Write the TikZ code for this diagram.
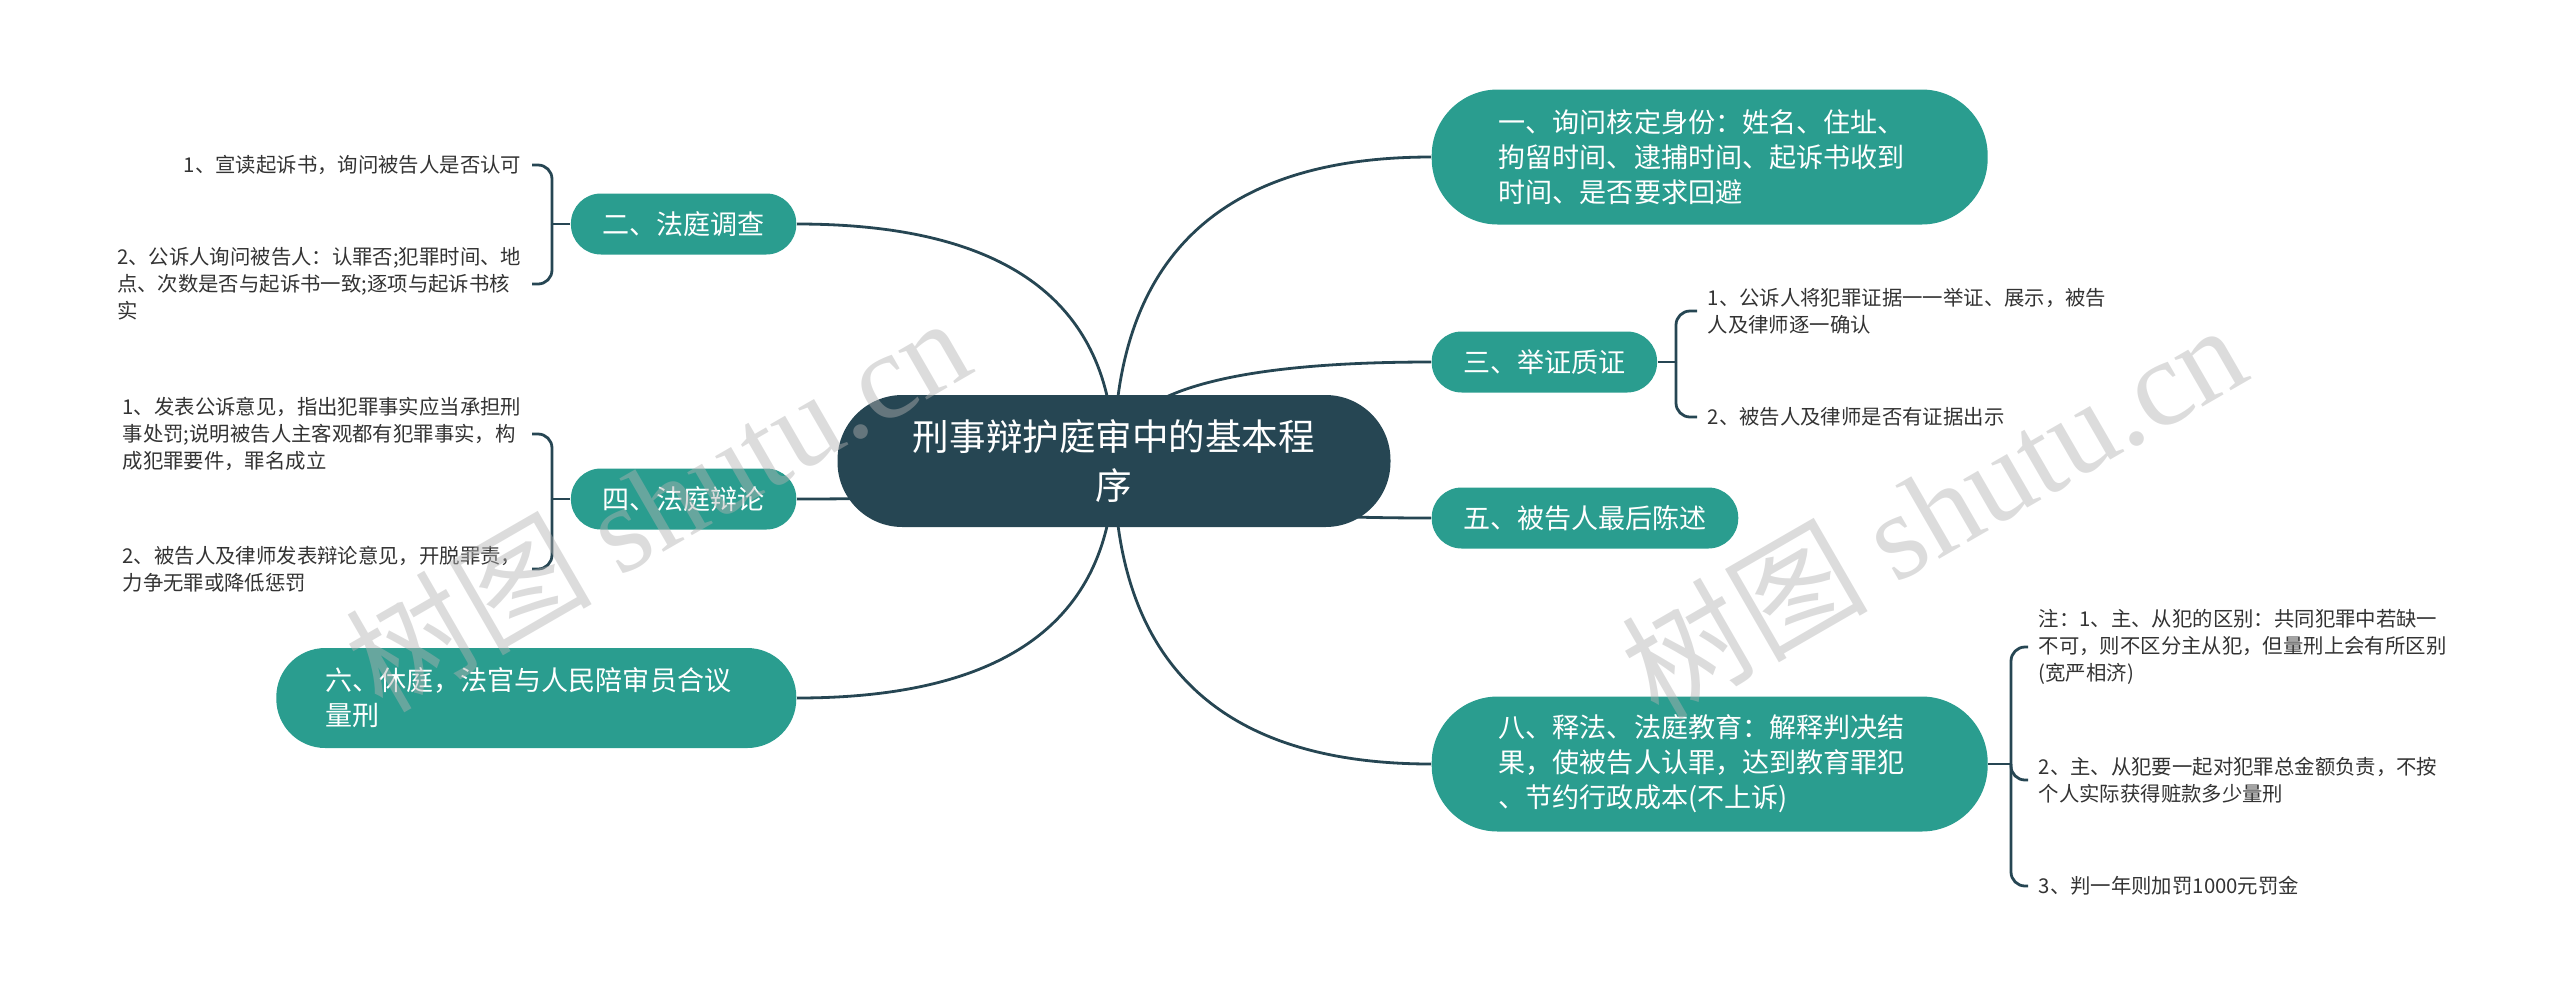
\documentclass[tikz,border=0pt]{standalone}
\usepackage{fontspec}
\setmainfont{Noto Sans CJK SC}
\newfontfamily\wmfont{Liberation Serif}
\usetikzlibrary{backgrounds}
\definecolor{mapdark}{HTML}{264653}
\definecolor{mapteal}{HTML}{2A9D8F}
\definecolor{leafgray}{HTML}{333333}

\begin{document}
\begin{tikzpicture}[x=0.1mm,y=0.1mm,
    root/.style={rectangle,rounded corners=6.5mm,fill=mapdark,text=white,
        minimum width=55.3mm,minimum height=13.2mm,align=center,
        font=\fontsize{10.4pt}{14.2pt}\selectfont},
    branch/.style={rectangle,rounded corners=3mm,fill=mapteal,text=white,
        inner xsep=3.15mm,inner ysep=0pt,minimum height=6.1mm,
        font=\fontsize{7.7pt}{10pt}\selectfont},
    bigbranch/.style={branch,align=left,text width=42.2mm,inner xsep=6.7mm,
        minimum height=13.5mm,rounded corners=6.6mm},
    leaf/.style={text=leafgray,align=left,inner sep=1mm,
        font=\fontsize{5.8pt}{7.7pt}\selectfont},
    link/.style={draw=mapdark,line width=0.28mm},
    brace/.style={link,rounded corners=1.4mm},
    wmark/.style={rotate=30,text=gray!60,text opacity=0.45,
        font=\fontsize{35pt}{35pt}\selectfont}]

\useasboundingbox (0,0) rectangle (2560,-1000);

\node[root] (M) at (1114,-461) {刑事辩护庭审中的基本程\\序};

% right side
\node[bigbranch,anchor=west] (A) at (1431,-157) {一、询问核定身份：姓名、住址、\\拘留时间、逮捕时间、起诉书收到\\时间、是否要求回避};
\node[branch,anchor=west] (C) at (1431,-362) {三、举证质证};
\node[branch,anchor=west] (E) at (1431,-518) {五、被告人最后陈述};
\node[bigbranch,anchor=west] (H) at (1431,-764) {八、释法、法庭教育：解释判决结\\果，使被告人认罪，达到教育罪犯\\、节约行政成本(不上诉)};

% left side
\node[branch,anchor=east] (B) at (797,-224) {二、法庭调查};
\node[branch,anchor=east] (D) at (797,-499) {四、法庭辩论};
\node[bigbranch,anchor=east,inner xsep=4.9mm,minimum height=10mm,
    rounded corners=4.9mm] (F) at (797,-698) {六、休庭，法官与人民陪审员合议\\量刑};

% leaves
\coordinate (jB) at (552,-224);
\coordinate (jC) at (1676,-362);
\coordinate (jD) at (552,-499);
\coordinate (jH) at (2011,-764);

\node[leaf,anchor=east] (B1) at (532,-165) {1、宣读起诉书，询问被告人是否认可};
\node[leaf,anchor=east] (B2) at (532,-284) {2、公诉人询问被告人：认罪否;犯罪时间、地\\点、次数是否与起诉书一致;逐项与起诉书核\\实};
\node[leaf,anchor=west] (C1) at (1697,-311) {1、公诉人将犯罪证据一一举证、展示，被告\\人及律师逐一确认};
\node[leaf,anchor=west] (C2) at (1697,-417) {2、被告人及律师是否有证据出示};
\node[leaf,anchor=east] (D1) at (532,-434) {1、发表公诉意见，指出犯罪事实应当承担刑\\事处罚;说明被告人主客观都有犯罪事实，构\\成犯罪要件，罪名成立};
\node[leaf,anchor=east] (D2) at (532,-569) {2、被告人及律师发表辩论意见，开脱罪责，\\力争无罪或降低惩罚};
\node[leaf,anchor=west] (H1) at (2028,-647) {注：1、主、从犯的区别：共同犯罪中若缺一\\不可，则不区分主从犯，但量刑上会有所区别\\(宽严相济)};
\node[leaf,anchor=west] (H2) at (2028,-780) {2、主、从犯要一起对犯罪总金额负责，不按\\个人实际获得赃款多少量刑};
\node[leaf,anchor=west] (H3) at (2028,-886) {3、判一年则加罚1000元罚金};

\begin{scope}[on background layer]
    \draw[link] (M.center) .. controls +(0,203) and +(-211,0) .. (A.west);
    \draw[link] (M.center) .. controls +(0,66) and +(-211,0) .. (C.west);
    \draw[link] (M.center) .. controls +(0,-38) and +(-211,0) .. (E.west);
    \draw[link] (M.center) .. controls +(0,-202) and +(-211,0) .. (H.west);
    \draw[link] (M.center) .. controls +(0,158) and +(211,0) .. (B.east);
    \draw[link] (M.center) .. controls +(0,-25) and +(211,0) .. (D.east);
    \draw[link] (M.center) .. controls +(0,-158) and +(211,0) .. (F.east);

    \draw[link] (B.west) -- (jB);
    \draw[brace] (jB) |- (B1.east);
    \draw[brace] (jB) |- (B2.east);
    \draw[link] (C.east) -- (jC);
    \draw[brace] (jC) |- (C1.west);
    \draw[brace] (jC) |- (C2.west);
    \draw[link] (D.west) -- (jD);
    \draw[brace] (jD) |- (D1.east);
    \draw[brace] (jD) |- (D2.east);
    \draw[link] (H.east) -- (jH);
    \draw[brace] (jH) |- (H1.west);
    \draw[brace] (jH) |- (H2.west);
    \draw[brace] (jH) |- (H3.west);
\end{scope}

\node[wmark] (W1) at (657,-502) {树图 {\wmfont shutu.cn}};
\node[wmark] (W2) at (1933,-509) {树图 {\wmfont shutu.cn}};

\end{tikzpicture}
\end{document}
